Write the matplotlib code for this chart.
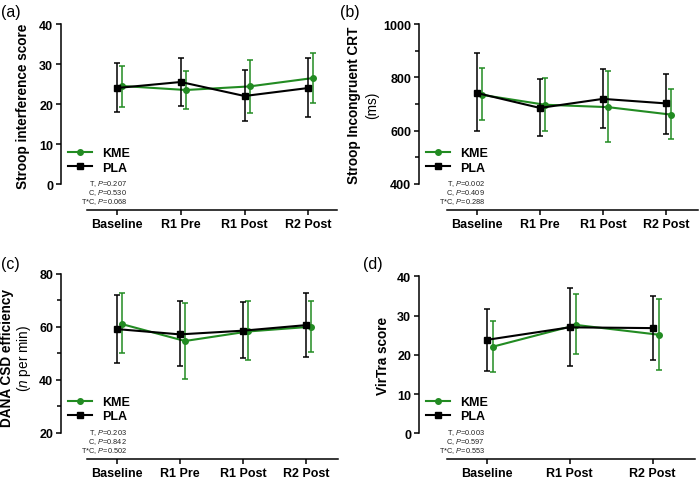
import matplotlib
matplotlib.use("Agg")
import matplotlib.pyplot as plt
import numpy as np
from matplotlib.lines import Line2D
from matplotlib.ticker import MultipleLocator

plt.rcParams['font.family'] = ['Liberation Sans', 'DejaVu Sans']
plt.rcParams['mathtext.fontset'] = 'custom'
plt.rcParams['mathtext.it'] = 'Liberation Sans:italic'
plt.rcParams['mathtext.rm'] = 'Liberation Sans'

GREEN = '#228B22'
BLACK = '#000000'

# ---------------- data ----------------
cats_a = ['Baseline', 'R1 Pre', 'R1 Post', 'R2 Post']
kme_a = [24.5, 23.5, 24.4, 26.5]
kme_a_lo = [19.3, 18.7, 17.8, 20.3]
kme_a_hi = [29.4, 28.2, 31.1, 32.7]
pla_a = [24.0, 25.5, 22.0, 24.0]
pla_a_lo = [18.0, 19.6, 15.7, 16.8]
pla_a_hi = [30.2, 31.4, 28.4, 31.4]
stats_a = ['0.207', '0.530', '0.068']

cats_b = ['Baseline', 'R1 Pre', 'R1 Post', 'R2 Post']
kme_b = [734, 697, 688, 660]
kme_b_lo = [638, 599, 556, 567]
kme_b_hi = [835, 798, 822, 756]
pla_b = [741, 685, 719, 702]
pla_b_lo = [597, 578, 609, 589]
pla_b_hi = [891, 793, 831, 813]
stats_b = ['0.002', '0.409', '0.288']

cats_c = ['Baseline', 'R1 Pre', 'R1 Post', 'R2 Post']
kme_c = [61.0, 54.6, 58.2, 60.0]
kme_c_lo = [49.9, 40.3, 47.5, 50.3]
kme_c_hi = [72.6, 68.8, 69.6, 69.7]
pla_c = [59.1, 57.1, 58.5, 60.6]
pla_c_lo = [46.4, 45.2, 48.3, 48.7]
pla_c_hi = [71.8, 69.7, 69.2, 72.7]
stats_c = ['0.203', '0.842', '0.502']

cats_d = ['Baseline', 'R1 Post', 'R2 Post']
kme_d = [22.1, 27.6, 25.1]
kme_d_lo = [15.7, 20.1, 16.1]
kme_d_hi = [28.6, 35.4, 34.1]
pla_d = [23.8, 27.0, 26.8]
pla_d_lo = [15.8, 17.2, 18.8]
pla_d_hi = [31.6, 36.9, 35.0]
stats_d = ['0.003', '0.597', '0.553']

groups = ['KME', 'PLA']
stat_terms = ['T', 'C', 'T*C']

W, H = 700, 481
fig = plt.figure(figsize=(W / 100, H / 100), dpi=100)


def fx(px):
    return px / W


def fy(py):
    return 1 - py / H


def panel(left, right, top, bottom, xlim, ylim, ybounds, xleft, cats,
          kme, klo, khi, pla, plo, phi, yticks, minor, stats, label, lpos,
          off):
    ax = fig.add_axes([fx(left), fy(bottom), fx(right - left), (bottom - top) / H])
    x = np.arange(len(cats))
    kerr = [np.array(kme) - np.array(klo), np.array(khi) - np.array(kme)]
    perr = [np.array(pla) - np.array(plo), np.array(phi) - np.array(pla)]
    ax.errorbar(x + off, kme, yerr=kerr, color=GREEN, marker='o', ms=4.0,
                lw=1.5, elinewidth=1.1, capsize=2.2, capthick=1.1,
                zorder=3, clip_on=False)
    ax.errorbar(x, pla, yerr=perr, color=BLACK, marker='s', ms=3.9,
                lw=1.5, elinewidth=1.1, capsize=2.2, capthick=1.1,
                zorder=4, clip_on=False)
    ax.set_xlim(*xlim)
    ax.set_ylim(*ylim)
    ax.set_xticks(x)
    ax.set_xticklabels(cats, fontweight='bold', fontsize=9)
    ax.set_yticks(yticks)
    ax.set_yticklabels([str(t) for t in yticks], fontweight='bold', fontsize=9)
    if minor:
        ax.yaxis.set_minor_locator(MultipleLocator(minor))
    for s in ['top', 'right']:
        ax.spines[s].set_visible(False)
    ax.spines['left'].set_bounds(*ybounds)
    ax.spines['bottom'].set_bounds(xleft, xlim[1])
    for s in ['left', 'bottom']:
        ax.spines[s].set_linewidth(1.1)
    ax.tick_params(axis='both', which='major', length=3.6, width=1.1, pad=2)
    ax.tick_params(axis='y', which='minor', length=3.0, width=1.1)
    ax.patch.set_alpha(0)
    # legend
    handles = [Line2D([0], [0], color=GREEN, marker='o', ms=4.0, lw=1.5),
               Line2D([0], [0], color=BLACK, marker='s', ms=3.9, lw=1.5)]
    ax.legend(handles, groups, loc='upper left',
              bbox_to_anchor=(fx(left + 7), fy(bottom - 63)),
              bbox_transform=fig.transFigure, frameon=False,
              prop={'weight': 'bold', 'size': 9}, handlelength=1.9,
              handletextpad=0.85, labelspacing=0.2, borderpad=0,
              borderaxespad=0)
    # stats
    for i, (n, p) in enumerate(zip(stat_terms, stats)):
        fig.text(fx(left + 66), fy(bottom - 27 + 9 * i), n + r', $\mathit{P}$=' + p,
                 ha='right', va='center', fontsize=5.3, color='#222222')
    fig.text(fx(lpos[0]), fy(lpos[1]), label, fontsize=11.5, ha='left', va='center')
    return ax


ax_a = panel(61, 337, 25, 211, (-0.878, 3.45), (-6.5, 40), (0, 40), -0.47,
             cats_a, kme_a, kme_a_lo, kme_a_hi, pla_a, pla_a_lo, pla_a_hi,
             [0, 10, 20, 30, 40], None, stats_a, '(a)', (1, 12), 0.08)
ax_b = panel(419, 698, 25, 211, (-0.92, 3.51), (302, 1000), (400, 1000), -0.48,
             cats_b, kme_b, kme_b_lo, kme_b_hi, pla_b, pla_b_lo, pla_b_hi,
             [400, 600, 800, 1000], 100, stats_b, '(b)', (340, 12), 0.08)
ax_c = panel(61, 338, 274.7, 460, (-0.88, 3.5), (10.07, 80), (20, 80), -0.47,
             cats_c, kme_c, kme_c_lo, kme_c_hi, pla_c, pla_c_lo, pla_c_hi,
             [20, 40, 60, 80], 10, stats_c, '(c)', (1, 264), 0.08)
ax_d = panel(419, 695, 277.3, 460, (-0.816, 2.51), (-6.55, 40), (0, 40), -0.48,
             cats_d, kme_d, kme_d_lo, kme_d_hi, pla_d, pla_d_lo, pla_d_hi,
             [0, 10, 20, 30, 40], None, stats_d, '(d)', (363, 265), 0.08)

# y labels
fig.text(fx(23), fy(106), 'Stroop interference score', rotation=90, fontsize=9.8,
         fontweight='bold', ha='center', va='center')
fig.text(fx(354), fy(105), 'Stroop Incongruent CRT', rotation=90, fontsize=9.8,
         fontweight='bold', ha='center', va='center')
fig.text(fx(372), fy(105), '(ms)', rotation=90, fontsize=9.8,
         ha='center', va='center')
fig.text(fx(7), fy(358), 'DANA CSD efficiency', rotation=90, fontsize=9.8,
         fontweight='bold', ha='center', va='center')
fig.text(fx(24), fy(358), r'($\mathit{n}$ per min)', rotation=90, fontsize=9.8,
         ha='center', va='center')
fig.text(fx(383), fy(356), 'VirTra score', rotation=90, fontsize=9.8,
         fontweight='bold', ha='center', va='center')

fig.savefig('out.png', dpi=100)
